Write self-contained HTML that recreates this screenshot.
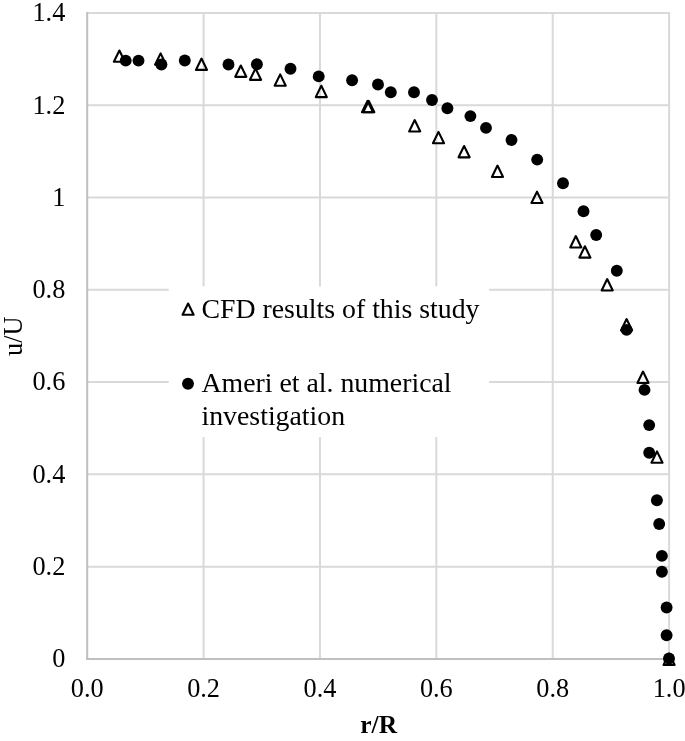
<!DOCTYPE html><html><head><meta charset="utf-8"><style>html,body{margin:0;padding:0;background:#fff;}svg{display:block;will-change:transform;}text{font-family:"Liberation Serif",serif;fill:#000;}</style></head><body>
<svg width="685" height="741" viewBox="0 0 685 741">
<rect width="685" height="741" fill="#fff"/>
<g stroke="#d9d9d9" stroke-width="2"><line x1="87.20" y1="566.63" x2="670.10" y2="566.63"/><line x1="87.20" y1="474.36" x2="670.10" y2="474.36"/><line x1="87.20" y1="382.09" x2="670.10" y2="382.09"/><line x1="87.20" y1="289.81" x2="670.10" y2="289.81"/><line x1="87.20" y1="197.54" x2="670.10" y2="197.54"/><line x1="87.20" y1="105.27" x2="670.10" y2="105.27"/><line x1="87.20" y1="13.00" x2="670.10" y2="13.00"/><line x1="203.58" y1="12.00" x2="203.58" y2="658.90"/><line x1="319.96" y1="12.00" x2="319.96" y2="658.90"/><line x1="436.34" y1="12.00" x2="436.34" y2="658.90"/><line x1="552.72" y1="12.00" x2="552.72" y2="658.90"/><line x1="669.10" y1="12.00" x2="669.10" y2="658.90"/></g>
<g stroke="#bfbfbf" stroke-width="2"><line x1="87.20" y1="12.00" x2="87.20" y2="659.90"/><line x1="86.20" y1="658.90" x2="670.10" y2="658.90"/></g>
<rect x="168.7" y="286.4" width="320.3" height="150.7" fill="#fff"/>
<text x="65.3" y="667.16" font-size="26.3" text-anchor="end">0</text>
<text x="65.3" y="574.89" font-size="26.3" text-anchor="end">0.2</text>
<text x="65.3" y="482.62" font-size="26.3" text-anchor="end">0.4</text>
<text x="65.3" y="390.34" font-size="26.3" text-anchor="end">0.6</text>
<text x="65.3" y="298.07" font-size="26.3" text-anchor="end">0.8</text>
<text x="65.3" y="205.80" font-size="26.3" text-anchor="end">1</text>
<text x="65.3" y="113.53" font-size="26.3" text-anchor="end">1.2</text>
<text x="65.3" y="21.26" font-size="26.3" text-anchor="end">1.4</text>
<text x="87.20" y="697.3" font-size="26.3" text-anchor="middle">0.0</text>
<text x="203.58" y="697.3" font-size="26.3" text-anchor="middle">0.2</text>
<text x="319.96" y="697.3" font-size="26.3" text-anchor="middle">0.4</text>
<text x="436.34" y="697.3" font-size="26.3" text-anchor="middle">0.6</text>
<text x="552.72" y="697.3" font-size="26.3" text-anchor="middle">0.8</text>
<text x="669.10" y="697.3" font-size="26.3" text-anchor="middle">1.0</text>
<text x="378.7" y="733.2" font-size="25.5" font-weight="bold" text-anchor="middle">r/R</text>
<text transform="translate(21.9 336.2) rotate(-90)" x="0" y="0" font-size="26.5" text-anchor="middle">u/U</text>
<text x="201.5" y="317.5" font-size="27.8">CFD results of this study</text>
<text x="201.5" y="391.9" font-size="27.8">Ameri et al. numerical</text>
<text x="201.5" y="424.7" font-size="27.8">investigation</text>
<g fill="none" stroke="#000" stroke-width="2.1" stroke-linejoin="round"><path d="M119.40 50.48L124.95 61.82L113.85 61.82Z"/><path d="M160.60 53.38L166.15 64.72L155.05 64.72Z"/><path d="M201.50 58.58L207.05 69.92L195.95 69.92Z"/><path d="M240.80 65.48L246.35 76.83L235.25 76.83Z"/><path d="M255.50 68.48L261.05 79.83L249.95 79.83Z"/><path d="M280.20 74.38L285.75 85.72L274.65 85.72Z"/><path d="M321.30 85.78L326.85 97.12L315.75 97.12Z"/><path d="M367.50 100.88L373.05 112.22L361.95 112.22Z"/><path d="M368.80 100.88L374.35 112.22L363.25 112.22Z"/><path d="M414.70 120.08L420.25 131.43L409.15 131.43Z"/><path d="M438.50 131.88L444.05 143.23L432.95 143.23Z"/><path d="M464.10 145.97L469.65 157.33L458.55 157.33Z"/><path d="M497.50 165.57L503.05 176.93L491.95 176.93Z"/><path d="M537.00 191.67L542.55 203.03L531.45 203.03Z"/><path d="M575.80 236.07L581.35 247.43L570.25 247.43Z"/><path d="M584.90 246.27L590.45 257.62L579.35 257.62Z"/><path d="M607.20 279.07L612.75 290.43L601.65 290.43Z"/><path d="M626.60 319.07L632.15 330.43L621.05 330.43Z"/><path d="M643.00 371.57L648.55 382.93L637.45 382.93Z"/><path d="M657.00 451.38L662.55 462.73L651.45 462.73Z"/><path d="M669.10 653.58L674.65 664.92L663.55 664.92Z"/><path d="M188.10 303.47L193.65 314.82L182.55 314.82Z"/></g>
<g fill="#000"><circle cx="125.7" cy="60.6" r="5.95"/><circle cx="138.5" cy="60.6" r="5.95"/><circle cx="161.4" cy="64.5" r="5.95"/><circle cx="184.8" cy="60.5" r="5.95"/><circle cx="228.5" cy="64.45" r="5.95"/><circle cx="256.9" cy="64.3" r="5.95"/><circle cx="290.5" cy="68.8" r="5.95"/><circle cx="318.7" cy="76.4" r="5.95"/><circle cx="352.1" cy="80.2" r="5.95"/><circle cx="378.0" cy="84.5" r="5.95"/><circle cx="390.8" cy="92.2" r="5.95"/><circle cx="414.0" cy="92.2" r="5.95"/><circle cx="432.0" cy="100.0" r="5.95"/><circle cx="447.4" cy="108.2" r="5.95"/><circle cx="470.4" cy="116.1" r="5.95"/><circle cx="486.0" cy="127.9" r="5.95"/><circle cx="511.5" cy="140.0" r="5.95"/><circle cx="537.2" cy="159.6" r="5.95"/><circle cx="563.0" cy="183.3" r="5.95"/><circle cx="583.5" cy="211.2" r="5.95"/><circle cx="596.2" cy="235.0" r="5.95"/><circle cx="616.8" cy="270.8" r="5.95"/><circle cx="626.6" cy="329.9" r="5.95"/><circle cx="644.5" cy="389.9" r="5.95"/><circle cx="649.2" cy="425.1" r="5.95"/><circle cx="649.2" cy="452.7" r="5.95"/><circle cx="656.9" cy="500.3" r="5.95"/><circle cx="659.2" cy="524.0" r="5.95"/><circle cx="661.9" cy="555.9" r="5.95"/><circle cx="661.9" cy="571.7" r="5.95"/><circle cx="666.6" cy="607.5" r="5.95"/><circle cx="666.6" cy="635.2" r="5.95"/><circle cx="669.0" cy="658.5" r="5.95"/><circle cx="188" cy="383.8" r="5.95"/></g>
</svg></body></html>
